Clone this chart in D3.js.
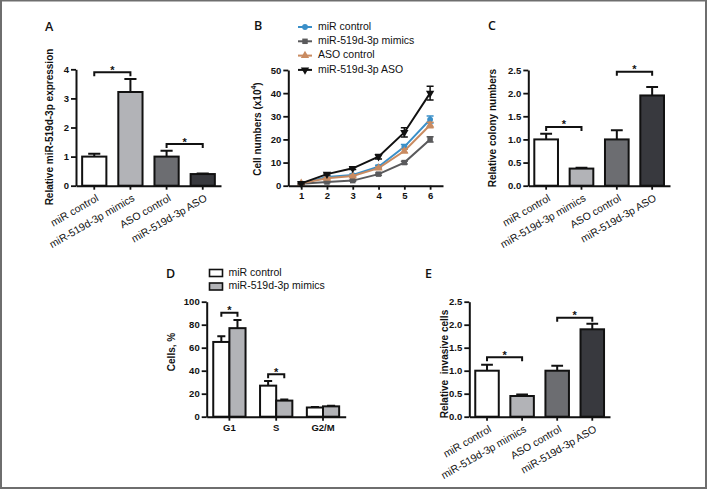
<!DOCTYPE html>
<html><head><meta charset="utf-8">
<script src="https://cdn.jsdelivr.net/npm/d3@7"></script>
<style>
body{margin:0;background:#fff}
svg{display:block}
text{font-family:Arial,"Liberation Sans",sans-serif;fill:#111}
.ylab{font-weight:bold;font-size:10px;white-space:pre}
.tick text{font-weight:bold;font-size:9.5px}
.letter{font-family:"Open Sans",sans-serif;font-size:12.5px;font-weight:600}
</style>
</head><body><svg id="c" width="708" height="489"></svg>
<script>
// ---------- data ----------
const groupCategories = ["miR control","miR-519d-3p mimics","ASO control","miR-519d-3p ASO"];
const barColors = ["#ffffff","#b2b3b7","#6c6d71","#38393e"];
const exprValues = [1.0,3.22,1.0,0.4];
const exprErrors = [0.1,0.45,0.2,0.02];
const exprTicks = [0,1,2,3,4];
const colonyValues = [1.0,0.37,1.0,1.95];
const colonyErrors = [0.12,0.02,0.2,0.18];
const invasionValues = [1.0,0.45,1.0,1.9];
const invasionErrors = [0.13,0.03,0.11,0.12];
const ratioTicks = [0,0.5,1.0,1.5,2.0,2.5];
const days = [1,2,3,4,5,6];
const growthNames = ["miR control","miR-519d-3p mimics","ASO control","miR-519d-3p ASO"];
const growthColors = ["#3a8fc8","#5a5a5c","#c98b61","#111111"];
const growthMarkers = ["circle","square","triangle","triangleDown"];
const growthMiRControl = [1,3.8,4.6,8.2,16.8,28.6];
const growthMimics = [0.8,1.6,2.2,5,10,20];
const growthASOControl = [1,3.2,4.2,7.6,15,26.2];
const growthASO = [1,5,7.5,12.5,23,40];
const errMiRControl = [0.2,0.5,0.5,0.6,1,1.5];
const errMimics = [0.2,0.3,0.3,0.5,0.6,1.1];
const errASOControl = [0.2,0.4,0.4,0.5,0.8,1.2];
const errASO = [0.3,0.4,0.5,1,2,3];
const growthTicks = [0,10,20,30,40,50];
const phases = ["G1","S","G2/M"];
const cycleNames = ["miR control","miR-519d-3p mimics"];
const cycleColors = ["#ffffff","#b2b3b7"];
const cycleControl = [65,27,8];
const cycleControlErr = [5,4,0.5];
const cycleMimics = [77,14,9];
const cycleMimicsErr = [7,1,0.5];
const cycleTicks = [0,20,40,60,80,100];

const svg = d3.select("#c");
svg.append("rect").attr("x",1).attr("y",0.5).attr("width",705).attr("height",487.5)
  .attr("fill","none").attr("stroke","#6e6e6e").attr("stroke-width",2);

function styleAxis(g){
  g.select(".domain").attr("stroke","#111").attr("stroke-width",2);
  g.selectAll(".tick line").attr("stroke","#111").attr("stroke-width",1.8);
}
function bracket(g, xa, xb, y){
  g.append("path").attr("d",`M${xa},${y+4}V${y}H${xb}V${y+4}`)
    .attr("fill","none").attr("stroke","#111").attr("stroke-width",2);
  g.append("text").attr("x",(xa+xb)/2).attr("y",y+1.5).attr("text-anchor","middle")
    .style("font-size","11px").style("font-weight","bold").text("*");
}
function letter(t,x,y){ svg.append("text").attr("class","letter").attr("x",x).attr("y",y).text(t); }
function ylabel(t,x,y){ svg.append("text").attr("class","ylab").attr("transform",`translate(${x},${y}) rotate(-90)`)
  .attr("text-anchor","middle").attr("dominant-baseline","middle").text(t); }

function barPanel(o){
  const g = svg.append("g");
  const x = d3.scaleBand().domain(groupCategories).range([o.x0,o.x1]).paddingInner(0.33).paddingOuter(0.17);
  const y = d3.scaleLinear().domain([0,o.max]).range([o.yb,o.yt]);
  g.selectAll("rect.bar").data(o.values).join("rect")
    .attr("x",(d,i)=>x(groupCategories[i])).attr("width",x.bandwidth())
    .attr("y",d=>y(d)).attr("height",d=>y(0)-y(d))
    .attr("fill",(d,i)=>barColors[i]).attr("stroke","#111").attr("stroke-width",2);
  o.values.forEach((v,i)=>{
    const cx = x(groupCategories[i])+x.bandwidth()/2, w = x.bandwidth()/4;
    g.append("path").attr("d",`M${cx},${y(v)}V${y(v+o.errors[i])}M${cx-w},${y(v+o.errors[i])}H${cx+w}`)
      .attr("stroke","#111").attr("stroke-width",2).attr("fill","none");
  });
  const ya = g.append("g").attr("transform",`translate(${o.x0},0)`)
    .call(d3.axisLeft(y).tickValues(o.ticks).tickFormat(o.fmt).tickSize(5).tickSizeOuter(0).tickPadding(2));
  styleAxis(ya);
  const xa = g.append("g").attr("transform",`translate(0,${o.yb})`)
    .call(d3.axisBottom(x).tickSize(4).tickSizeOuter(0));
  styleAxis(xa);
  xa.selectAll(".tick text").style("font-weight","normal").style("font-size","10.5px")
    .attr("text-anchor","end").attr("dy",0).attr("y",0)
    .attr("transform","translate(5,14.5) rotate(-30)");
  o.brackets.forEach(b=>{
    bracket(g, x(groupCategories[b[0]])+x.bandwidth()/2, x(groupCategories[b[1]])+x.bandwidth()/2, y(b[2]));
  });
}

// Panel A
letter("A",45,31);
ylabel("Relative miR-519d-3p expression",50,127);
barPanel({x0:76,x1:221,yt:69.3,yb:185.7,max:4,ticks:exprTicks,fmt:d3.format("d"),
  values:exprValues,errors:exprErrors,brackets:[[0,1,3.9],[2,3,1.43]]});

// Panel C
letter("C",488,30);
ylabel("Relative colony numbers",493,128);
barPanel({x0:528.3,x1:670,yt:70,yb:185.7,max:2.5,ticks:ratioTicks,fmt:d3.format(".1f"),
  values:colonyValues,errors:colonyErrors,brackets:[[0,1,1.27],[2,3,2.46]]});

// Panel E
letter("E",425,278);
ylabel("Relative  invasive cells",445,364);
barPanel({x0:469.3,x1:610,yt:301.7,yb:416.7,max:2.5,ticks:ratioTicks,fmt:d3.format(".1f"),
  values:invasionValues,errors:invasionErrors,brackets:[[0,1,1.29],[2,3,2.15]]});

// Panel B
(function(){
  letter("B",254,30);
  const lab = svg.append("text").attr("class","ylab").attr("transform","translate(258,129) rotate(-90)")
    .attr("text-anchor","middle").attr("dominant-baseline","middle");
  lab.append("tspan").text("Cell numbers (x10");
  lab.append("tspan").attr("dy",-4).style("font-size","7px").text("4");
  lab.append("tspan").attr("dy",4).text(")");
  const g = svg.append("g");
  const x = d3.scaleLinear().domain([0.5,6.5]).range([288.3,443]);
  const y = d3.scaleLinear().domain([0,50]).range([185.7,70]);
  const series = [growthMiRControl,growthMimics,growthASOControl,growthASO];
  const errs = [errMiRControl,errMimics,errASOControl,errASO];
  const sym = {circle:d3.symbolCircle,square:d3.symbolSquare,triangle:d3.symbolTriangle,triangleDown:d3.symbolTriangle};
  const drawMarker = (sel,i)=>{
    sel.attr("d",d3.symbol().type(sym[growthMarkers[i]]).size(growthMarkers[i]==="circle"?26:30)())
      .attr("fill",growthColors[i]);
  };
  series.forEach((s,i)=>{
    g.append("path").datum(s).attr("fill","none").attr("stroke",growthColors[i]).attr("stroke-width",2)
      .attr("d",d3.line().x((d,k)=>x(days[k])).y(d=>y(d)));
    s.forEach((v,k)=>{
      const cx=x(days[k]);
      g.append("path").attr("d",`M${cx},${y(v-errs[i][k])}V${y(v+errs[i][k])}M${cx-3.5},${y(v-errs[i][k])}H${cx+3.5}M${cx-3.5},${y(v+errs[i][k])}H${cx+3.5}`)
        .attr("stroke",growthColors[i]).attr("stroke-width",1.5);
      const m = g.append("path").attr("transform",`translate(${cx},${y(v)})${growthMarkers[i]==="triangleDown"?" rotate(180)":""}`);
      drawMarker(m,i);
    });
  });
  const ya = g.append("g").attr("transform","translate(288.3,0)")
    .call(d3.axisLeft(y).tickValues(growthTicks).tickSize(5).tickSizeOuter(0).tickPadding(2));
  styleAxis(ya);
  const xa = g.append("g").attr("transform","translate(0,185.7)")
    .call(d3.axisBottom(x).tickValues(days).tickFormat(d3.format("d")).tickSize(4).tickSizeOuter(0).tickPadding(3));
  styleAxis(xa);
  // legend
  const lg = svg.append("g");
  growthNames.forEach((n,i)=>{
    const yy = 27 + i*14.3;
    lg.append("line").attr("x1",298).attr("x2",312).attr("y1",yy).attr("y2",yy)
      .attr("stroke",growthColors[i]).attr("stroke-width",2);
    const m = lg.append("path").attr("transform",`translate(305,${yy})${growthMarkers[i]==="triangleDown"?" rotate(180)":""}`);
    drawMarker(m,i);
    lg.append("text").attr("x",318).attr("y",yy).attr("dominant-baseline","middle")
      .style("font-size","10.5px").text(n);
  });
})();

// Panel D
(function(){
  letter("D",166,278);
  ylabel("Cells, %",172,352);
  const g = svg.append("g");
  const x = d3.scaleBand().domain(phases).range([206.7,345.7]).paddingInner(0.31).paddingOuter(0.14);
  const xi = d3.scaleBand().domain([0,1]).range([0,x.bandwidth()]);
  const y = d3.scaleLinear().domain([0,100]).range([416.7,301.7]);
  const vals = [cycleControl,cycleMimics], errs=[cycleControlErr,cycleMimicsErr];
  vals.forEach((s,j)=>{
    s.forEach((v,k)=>{
      const bx = x(phases[k])+xi(j), w = xi.bandwidth(), cx = bx+w/2, e=errs[j][k];
      g.append("rect").attr("x",bx).attr("width",w).attr("y",y(v)).attr("height",y(0)-y(v))
        .attr("fill",cycleColors[j]).attr("stroke","#111").attr("stroke-width",2);
      g.append("path").attr("d",`M${cx},${y(v)}V${y(v+e)}M${cx-w/4},${y(v+e)}H${cx+w/4}`)
        .attr("stroke","#111").attr("stroke-width",2).attr("fill","none");
    });
  });
  const ya = g.append("g").attr("transform","translate(206.7,0)")
    .call(d3.axisLeft(y).tickValues(cycleTicks).tickSize(5).tickSizeOuter(0).tickPadding(2));
  styleAxis(ya);
  const xa = g.append("g").attr("transform","translate(0,416.7)")
    .call(d3.axisBottom(x).tickSize(4).tickSizeOuter(0).tickPadding(4));
  styleAxis(xa);
  const c = k=>x(phases[k]);
  bracket(g, c(0)+xi(0)+xi.bandwidth()/2, c(0)+xi(1)+xi.bandwidth()/2, y(90.4));
  bracket(g, c(1)+xi(0)+xi.bandwidth()/2, c(1)+xi(1)+xi.bandwidth()/2, y(37));
  // legend
  cycleNames.forEach((n,i)=>{
    const yy = 273 + i*13.5;
    svg.append("rect").attr("x",209.5).attr("y",yy-3.5).attr("width",13).attr("height",7)
      .attr("fill",cycleColors[i]).attr("stroke","#111").attr("stroke-width",1.6);
    svg.append("text").attr("x",228.5).attr("y",yy).attr("dominant-baseline","middle")
      .style("font-size","10.5px").text(n);
  });
})();
</script>
</body></html>
